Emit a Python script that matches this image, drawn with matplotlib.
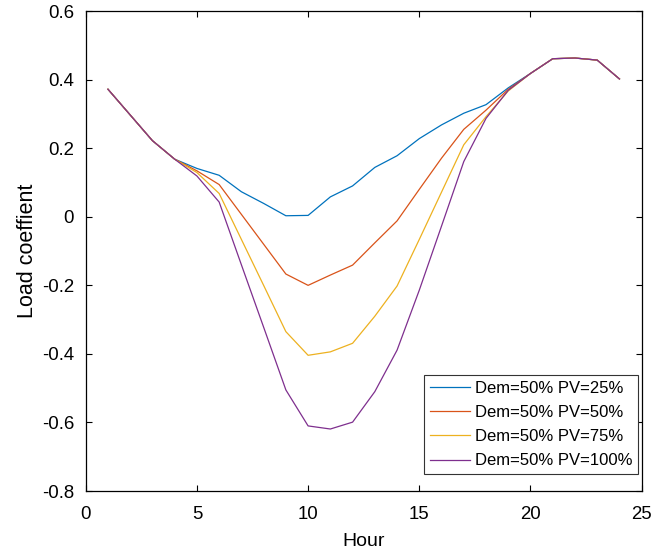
import numpy as np
import matplotlib
matplotlib.use("Agg")
import matplotlib.pyplot as plt

plt.rcParams['font.family'] = ['Liberation Sans', 'DejaVu Sans']

hours = np.arange(1, 25)

pv25 = [0.372, 0.297, 0.222, 0.168, 0.141, 0.121, 0.073, 0.039, 0.003, 0.004,
        0.058, 0.090, 0.144, 0.178, 0.228, 0.268, 0.302, 0.327, 0.376, 0.418,
        0.461, 0.463, 0.457, 0.402]
pv50 = [0.372, 0.297, 0.222, 0.168, 0.134, 0.094, 0.007, -0.080, -0.167, -0.200,
        -0.170, -0.141, -0.076, -0.012, 0.080, 0.171, 0.255, 0.311, 0.372, 0.418,
        0.461, 0.463, 0.457, 0.402]
pv75 = [0.372, 0.297, 0.222, 0.168, 0.129, 0.068, -0.066, -0.200, -0.335, -0.404,
        -0.394, -0.369, -0.290, -0.202, -0.066, 0.072, 0.210, 0.292, 0.367, 0.418,
        0.461, 0.463, 0.457, 0.402]
pv100 = [0.372, 0.297, 0.222, 0.168, 0.119, 0.043, -0.140, -0.322, -0.505, -0.610,
         -0.619, -0.599, -0.510, -0.389, -0.214, -0.027, 0.161, 0.287, 0.369, 0.418,
         0.461, 0.463, 0.457, 0.402]

series = [pv25, pv50, pv75, pv100]
labels = ["Dem=50% PV=25%", "Dem=50% PV=50%", "Dem=50% PV=75%", "Dem=50% PV=100%"]
colors = ["#0072BD", "#D95319", "#EDB120", "#7E2F8E"]

fig = plt.figure(figsize=(6.66, 5.53), dpi=100)
ax = fig.add_axes([0.1287, 0.112, 0.8348, 0.868])

for y, lab, c in zip(series, labels, colors):
    ax.plot(hours, y, color=c, label=lab, linewidth=0.9)

ax.set_xlim(0, 25)
ax.set_ylim(-0.8, 0.6)
ax.set_xticks([0, 5, 10, 15, 20, 25])
ax.set_yticks(np.round(np.arange(-0.8, 0.61, 0.2), 1))
ax.set_yticklabels(["-0.8", "-0.6", "-0.4", "-0.2", "0", "0.2", "0.4", "0.6"])
ax.tick_params(direction="in", top=True, right=True, length=4, width=0.8,
               labelsize=13.4)
ax.tick_params(axis="x", pad=11)
ax.tick_params(axis="y", pad=8.4)
for s in ax.spines.values():
    s.set_linewidth(0.9)

ax.set_xlabel("Hour", fontsize=14, labelpad=7)
ax.set_ylabel("Load coeffient", fontsize=15.5, labelpad=2.5)

leg = ax.legend(loc="lower right", bbox_to_anchor=(0.994, 0.035), borderaxespad=0,
                fontsize=12, fancybox=False, framealpha=1, edgecolor="#333333",
                handlelength=2.4, handletextpad=0.3, labelspacing=0.55,
                borderpad=0.35)
leg.get_frame().set_linewidth(0.8)

fig.savefig("out.png", dpi=100)
